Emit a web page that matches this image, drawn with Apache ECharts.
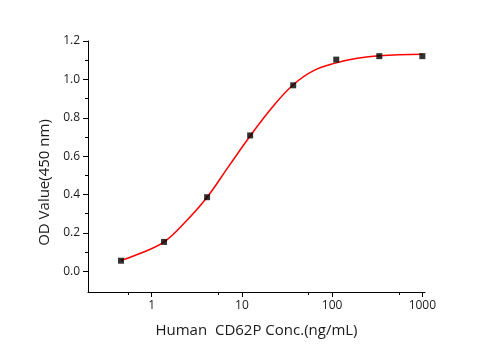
<!DOCTYPE html>
<html>
<head>
<meta charset="utf-8">
<script src="https://cdn.jsdelivr.net/npm/echarts@6/dist/echarts.min.js"></script>
<style>
  html, body { margin: 0; padding: 0; background: #fff; }
  #chart { width: 495px; height: 350px; }
</style>
</head>
<body>
<div id="chart"></div>
<script>
// measured points (3-fold dilution)
const conc = [0.457, 1.372, 4.115, 12.35, 37.04, 111.1, 333.3, 1000];
const od = [0.055, 0.153, 0.386, 0.708, 0.969, 1.103, 1.121, 1.121];

// fitted curve
const fitConc = [0.457, 0.79, 1.372, 2.36, 4.115, 7.07, 12.35, 21.4, 37.04, 62.5, 111.1, 190, 333.3, 1000];
const fitOd = [0.056, 0.098, 0.153, 0.257, 0.386, 0.544, 0.705, 0.851, 0.972, 1.046, 1.086, 1.110, 1.123, 1.131];

const xTicks = [1, 10, 100, 1000];
const xMinorTicks = [0.55, 5.5, 55, 550];
const yTicks = [0, 0.2, 0.4, 0.6, 0.8, 1.0, 1.2];
const yMinorTicks = [0.1, 0.3, 0.5, 0.7, 0.9, 1.1];

const font = 'Open Sans';
const ink = '#1a1a1a';

const chart = echarts.init(document.getElementById('chart'));

chart.setOption({
  animation: false,
  grid: { left: 88, right: 70, top: 41, bottom: 58, outerBoundsMode: 'none' },
  xAxis: [
    {
      type: 'log',
      min: 0.197,
      max: 1070,
      name: 'Human  CD62P Conc.(ng/mL)',
      nameLocation: 'middle',
      nameGap: 31,
      nameTextStyle: { fontFamily: font, fontSize: 15, color: ink },
      axisLine: { show: true, onZero: false, lineStyle: { color: '#000', width: 1 } },
      axisTick: { show: true, inside: false, length: 5, customValues: xTicks, lineStyle: { color: '#000' } },
      axisLabel: {
        customValues: xTicks,
        margin: 8,
        fontFamily: font, fontSize: 12, color: ink,
        formatter: v => String(Math.round(v))
      },
      splitLine: { show: false },
      minorTick: { show: false }
    },
    {
      type: 'log',
      min: 0.197,
      max: 1070,
      position: 'bottom',
      axisLine: { show: false, onZero: false },
      axisTick: { show: true, inside: false, length: 3, customValues: xMinorTicks, lineStyle: { color: '#000' } },
      axisLabel: { show: false },
      splitLine: { show: false }
    }
  ],
  yAxis: [
    {
      type: 'value',
      min: -0.108,
      max: 1.2,
      name: 'OD Value(450 nm)',
      nameLocation: 'middle',
      nameGap: 34,
      nameTextStyle: { fontFamily: font, fontSize: 15, color: ink, padding: [0, 32, 0, 0] },
      axisLine: { show: true, onZero: false, lineStyle: { color: '#000', width: 1 } },
      axisTick: { show: true, inside: false, length: 5, customValues: yTicks, lineStyle: { color: '#000' } },
      axisLabel: {
        customValues: yTicks,
        margin: 8,
        fontFamily: font, fontSize: 12, color: ink,
        formatter: v => v.toFixed(1)
      },
      splitLine: { show: false }
    },
    {
      type: 'value',
      min: -0.108,
      max: 1.2,
      position: 'left',
      axisLine: { show: false },
      axisTick: { show: true, inside: false, length: 3, customValues: yMinorTicks, lineStyle: { color: '#000' } },
      axisLabel: { show: false },
      splitLine: { show: false }
    }
  ],
  series: [
    {
      name: 'fit',
      type: 'line',
      smooth: 0.4,
      showSymbol: false,
      data: fitConc.map((c, i) => [c, fitOd[i]]),
      lineStyle: { color: '#ff0000', width: 1.5 },
      z: 2
    },
    {
      name: 'OD',
      type: 'scatter',
      symbol: 'rect',
      symbolSize: 6,
      data: conc.map((c, i) => [c, od[i]]),
      itemStyle: { color: '#000' },
      z: 3
    }
  ]
});
</script>
</body>
</html>
